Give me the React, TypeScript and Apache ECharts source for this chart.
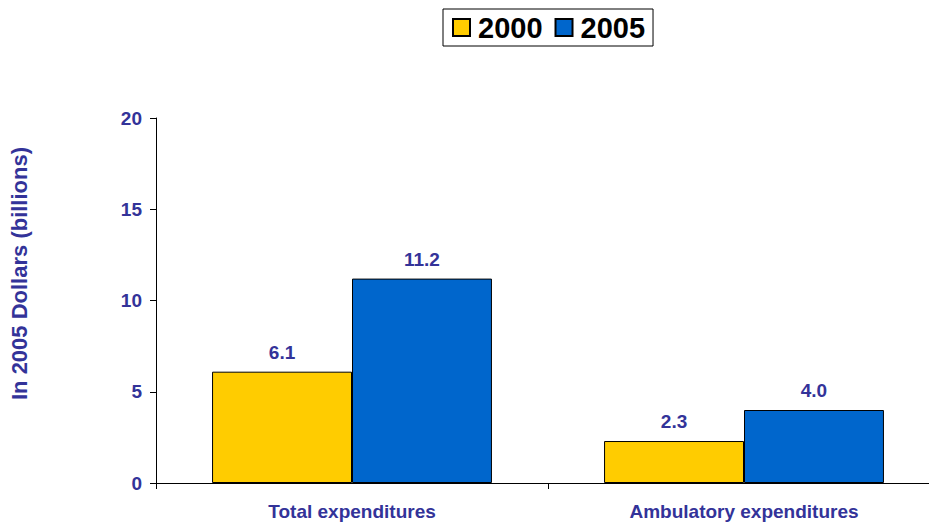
import React, { useEffect, useRef } from "react";
import * as echarts from "echarts";

const categories = ["Total expenditures", "Ambulatory expenditures"];
const series2000 = [6.1, 2.3];
const series2005 = [11.2, 4.0];
const yTicks = [0, 5, 10, 15, 20];

export default function App() {
  const ref = useRef<HTMLDivElement>(null);
  useEffect(() => {
    if (!ref.current) return;
    const chart = echarts.init(ref.current, null, { renderer: "svg" });
    const lbl = "#333399";
    const font = "'Liberation Sans', Arial, sans-serif";
    const valueLabel = {
      show: true,
      position: "top",
      distance: 10,
      color: lbl,
      fontSize: 19,
      fontWeight: "bold",
      fontFamily: font,
      formatter: (p: any) => Number(p.value).toFixed(1),
    };
    chart.setOption({
      animation: false,
      textStyle: { fontFamily: font },
      legend: {
        top: 9,
        left: 443,
        data: ["2000", "2005"],
        icon: "rect",
        itemWidth: 17,
        itemHeight: 17,
        itemGap: 12,
        borderColor: "#000",
        borderWidth: 1,
        padding: [4, 8, 4, 9],
        textStyle: { fontSize: 29, fontWeight: "bold", color: "#000", fontFamily: font, padding: [0, 0, 0, 3] },
      },
      grid: { left: 156, right: 0, top: 118, bottom: 41 },
      xAxis: {
        type: "category",
        data: categories,
        axisLine: { lineStyle: { color: "#000", width: 1 } },
        axisTick: { show: true, length: 6, lineStyle: { color: "#000" } },
        axisLabel: { color: lbl, fontSize: 19, fontWeight: "bold", margin: 19, fontFamily: font },
      },
      yAxis: {
        type: "value",
        min: 0,
        max: 20,
        interval: 5,
        name: "In 2005 Dollars (billions)",
        nameLocation: "middle",
        nameRotate: 90,
        nameGap: 126,
        nameTextStyle: { color: lbl, fontSize: 22, fontWeight: "bold", fontFamily: font, padding: [0, 0, 0, 54] },
        splitLine: { show: false },
        axisLine: { show: true, lineStyle: { color: "#000", width: 1 } },
        axisTick: { show: true, length: 6, lineStyle: { color: "#000" } },
        axisLabel: {
          color: lbl,
          fontSize: 19,
          fontWeight: "bold",
          margin: 14,
          fontFamily: font,
          formatter: (v: number) => (yTicks.includes(v) ? String(v) : ""),
        },
      },
      series: [
        {
          name: "2000",
          type: "bar",
          data: series2000,
          barGap: "0%",
          barCategoryGap: "28.6%",
          itemStyle: { color: "#FFCC00", borderColor: "#000", borderWidth: 1 },
          label: valueLabel,
        },
        {
          name: "2005",
          type: "bar",
          data: series2005,
          itemStyle: { color: "#0066CC", borderColor: "#000", borderWidth: 1 },
          label: valueLabel,
        },
      ],
    });
    return () => chart.dispose();
  }, []);
  return (
    <div style={{ position: "fixed", left: 0, top: 0, width: 929, height: 524, overflow: "hidden", background: "#fff" }}>
      <div ref={ref} style={{ width: 940, height: 524 }} />
    </div>
  );
}
